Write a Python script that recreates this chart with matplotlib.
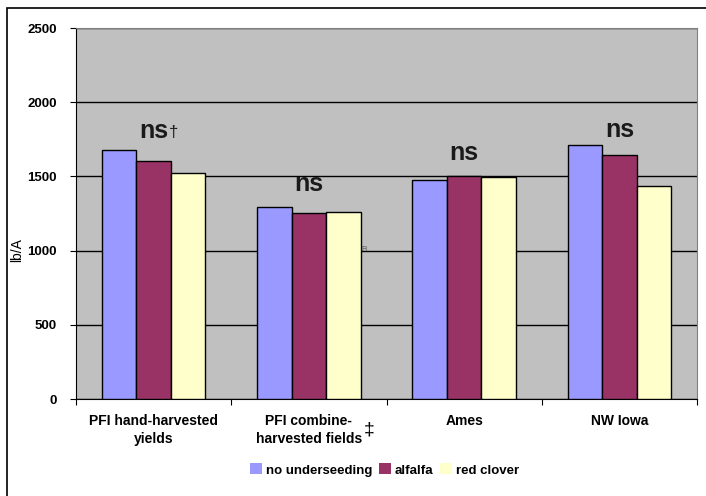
import matplotlib
matplotlib.use("Agg")
import matplotlib.pyplot as plt
import numpy as np
from matplotlib.patches import Rectangle

plt.rcParams['font.family'] = ['Liberation Sans', 'DejaVu Sans']

sites = ["PFI hand-harvested\nyields", "PFI combine-\nharvested fields", "Ames", "NW Iowa"]
series = ["no underseeding", "alfalfa", "red clover"]
no_underseeding = [1680, 1296, 1474, 1710]
alfalfa = [1602, 1255, 1501, 1642]
red_clover = [1525, 1258, 1494, 1433]
sig_labels = ["ns", "ns", "ns", "ns"]
sig_heights = [1759, 1402, 1610, 1766]

colors = ["#9999ff", "#993366", "#ffffcc"]

fig = plt.figure(figsize=(7.06, 4.96), dpi=100, facecolor="w")
ax = fig.add_axes([76 / 706, 1 - 399 / 496, 621 / 706, 371 / 496])
ax.set_facecolor("#c0c0c0")

x = np.arange(len(sites))
w = 0.222
for i, (vals, name) in enumerate(zip([no_underseeding, alfalfa, red_clover], series)):
    ax.bar(x + (i - 1) * w, vals, w, color=colors[i], edgecolor="black",
           linewidth=1.0, label=name, zorder=3)

ax.set_xlim(-0.5, len(sites) - 0.5)
ax.set_ylim(0, 2500)
ax.set_yticks(range(0, 2501, 500))
ax.yaxis.grid(True, color="black", linewidth=1.0, zorder=0)
ax.set_axisbelow(True)
for s in ["top", "right"]:
    ax.spines[s].set_color("#808080")
ax.spines["left"].set_color("black")
ax.spines["bottom"].set_color("black")

ax.set_yticklabels([str(v) for v in range(0, 2501, 500)], fontsize=9.5, fontweight="bold")
ax.tick_params(axis="y", length=4, pad=10)
ax.set_xticks(np.arange(-0.5, len(sites), 1.0))
ax.set_xticklabels([])
ax.tick_params(axis="x", length=4)
for xi, name in zip(x, sites):
    ax.text(xi, -100, name, ha="center", va="top", fontsize=10, fontweight="bold",
            linespacing=1.35, clip_on=False)

fig.text(17 / 706, 1 - 250 / 496, "lb/A", rotation=90, ha="center", va="center", fontsize=10)

# significance markers above each site
for xi, lab, h in zip(x, sig_labels, sig_heights):
    ax.text(xi, h, lab, ha="center", va="baseline", fontsize=18, fontweight="bold",
            color="#1a1a1a", zorder=4)
ax.text(0.1, 1765, "\u2020", ha="left", va="baseline", fontsize=12, color="#1a1a1a")
ax.text(1.39, -150, "\u2021", ha="center", va="top", fontsize=14, clip_on=False)
ax.text(1.36, 1010, "Fi", ha="center", va="center", fontsize=5, color="#555555", zorder=4)

leg = fig.legend(loc="center", bbox_to_anchor=(0.545, 1 - 470 / 496), ncol=3, frameon=False,
                 prop={"weight": "bold", "size": 9.5}, handlelength=0.9, handleheight=0.9,
                 handletextpad=0.3, columnspacing=0.5)
for h in leg.legend_handles:
    h.set_edgecolor("none")

# outer frame around the chart
fig.patches.append(Rectangle((7 / 706, -0.1), 1.2, 1 - 8 / 496 + 0.1, transform=fig.transFigure,
                             fill=False, edgecolor="black", linewidth=1.2))

plt.savefig("out.png", dpi=100, facecolor="w")
